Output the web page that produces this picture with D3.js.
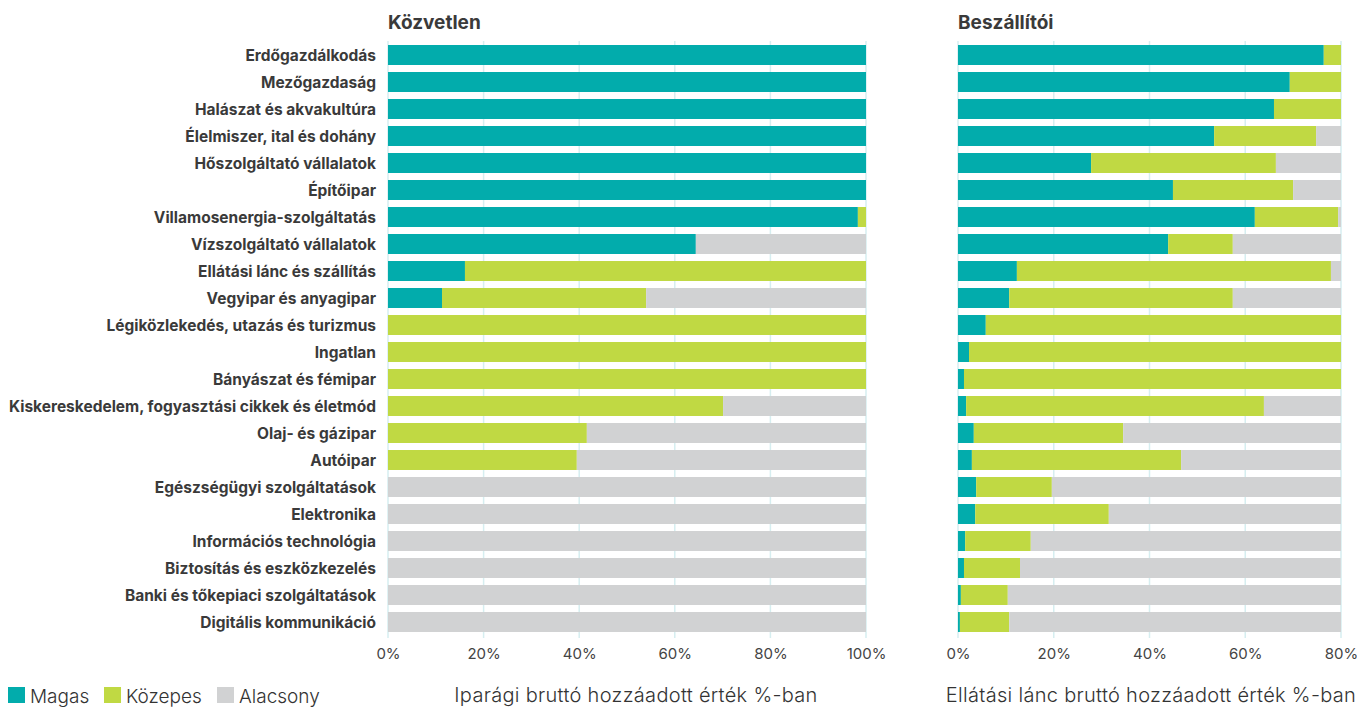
<!DOCTYPE html>
<html>
<head>
<meta charset="utf-8">
<script src="https://cdn.jsdelivr.net/npm/d3@7"></script>
<style>
  html, body { margin: 0; padding: 0; background: #fff; }
  svg { display: block; font-family: Inter, "Noto Sans", sans-serif; }
</style>
</head>
<body>
<svg id="chart" width="1357" height="707"></svg>
<script>
const categories = [
  "Erdőgazdálkodás", "Mezőgazdaság", "Halászat és akvakultúra", "Élelmiszer, ital és dohány",
  "Hőszolgáltató vállalatok", "Építőipar", "Villamosenergia-szolgáltatás", "Vízszolgáltató vállalatok",
  "Ellátási lánc és szállítás", "Vegyipar és anyagipar", "Légiközlekedés, utazás és turizmus", "Ingatlan",
  "Bányászat és fémipar", "Kiskereskedelem, fogyasztási cikkek és életmód", "Olaj- és gázipar", "Autóipar",
  "Egészségügyi szolgáltatások", "Elektronika", "Információs technológia", "Biztosítás és eszközkezelés",
  "Banki és tőkepiaci szolgáltatások", "Digitális kommunikáció"
];
const seriesNames = ["Magas", "Közepes", "Alacsony"];

// Közvetlen (direct)
const directMagas    = [100, 100, 100, 100, 100, 100, 98.3, 64.4, 16.1, 11.3, 0, 0, 0, 0, 0, 0, 0, 0, 0, 0, 0, 0];
const directKozepes  = [0, 0, 0, 0, 0, 0, 1.7, 0, 83.9, 42.7, 100, 100, 100, 70.1, 41.6, 39.5, 0, 0, 0, 0, 0, 0];
const directAlacsony = [0, 0, 0, 0, 0, 0, 0, 35.6, 0, 46.0, 0, 0, 0, 29.9, 58.4, 60.5, 100, 100, 100, 100, 100, 100];

// Beszállítói (supplier), in the units of the printed axis
const supplierMagas    = [76.4, 69.3, 66.0, 53.5, 27.8, 44.9, 62.0, 43.9, 12.3, 10.7, 5.8, 2.3, 1.25, 1.7, 3.3, 2.9, 3.8, 3.6, 1.5, 1.25, 0.6, 0.4];
const supplierKozepes  = [3.6, 10.7, 14.0, 21.3, 38.6, 25.1, 17.4, 13.5, 65.6, 46.7, 74.2, 77.7, 78.75, 62.2, 31.2, 43.7, 15.8, 27.9, 13.7, 11.7, 9.8, 10.3];
const supplierAlacsony = [0, 0, 0, 5.2, 13.6, 10.0, 0.6, 22.6, 2.1, 22.6, 0, 0, 0, 16.1, 45.5, 33.4, 60.4, 48.5, 64.8, 67.0, 69.6, 69.3];

const leftTicks  = [0, 20, 40, 60, 80, 100];
const rightTicks = [0, 20, 40, 60, 80];

const titleLeft = "Közvetlen";
const titleRight = "Beszállítói";
const axisTitleLeft = "Iparági bruttó hozzáadott érték %-ban";
const axisTitleRight = "Ellátási lánc bruttó hozzáadott érték %-ban";

const colors = { "Magas": "#02acac", "Közepes": "#c0d943", "Alacsony": "#d1d2d3" };

const svg = d3.select("#chart");

const y = d3.scaleBand().domain(categories).range([41.5, 635.5]).paddingInner(0.26).paddingOuter(0.13);

function panel(xScale, ticks, magas, kozepes, alacsony, title, axisTitle, titleX, axisTitleX) {
  const rows = categories.map((c, i) => ({ cat: c, "Magas": magas[i], "Közepes": kozepes[i], "Alacsony": alacsony[i] }));
  const stacked = d3.stack().keys(seriesNames)(rows);

  // grid
  svg.append("g").selectAll("line").data(ticks).join("line")
    .attr("x1", d => xScale(d)).attr("x2", d => xScale(d))
    .attr("y1", 41).attr("y2", 638)
    .attr("stroke", "#d6eef0").attr("stroke-width", 1.5);

  // bars
  svg.append("g").selectAll("g").data(stacked).join("g")
    .attr("fill", d => colors[d.key])
    .selectAll("rect").data(d => d).join("rect")
    .attr("x", d => xScale(d[0]))
    .attr("width", d => Math.max(0, xScale(d[1]) - xScale(d[0])))
    .attr("y", d => y(d.data.cat))
    .attr("height", y.bandwidth());

  // axis
  const ax = svg.append("g").attr("transform", "translate(0,638)")
    .call(d3.axisBottom(xScale).tickValues(ticks).tickFormat(d => d + "%").tickSize(0).tickPadding(10));
  ax.select(".domain").remove();
  ax.selectAll("text").attr("font-size", 15).attr("fill", "#444").attr("font-family", "Inter, sans-serif");

  svg.append("text").attr("x", titleX).attr("y", 29)
    .attr("font-size", 19).attr("font-weight", 700).attr("fill", "#3a3a3a").text(title);

  svg.append("text").attr("x", axisTitleX).attr("y", 702)
    .attr("text-anchor", "middle").attr("font-size", 20).attr("font-weight", 300)
    .attr("letter-spacing", 0.3).attr("fill", "#333")
    .text(axisTitle);
}

const xLeft = d3.scaleLinear().domain([0, 100]).range([388, 866]);
const xRight = d3.scaleLinear().domain([0, 80]).range([958, 1341]);

panel(xLeft, leftTicks, directMagas, directKozepes, directAlacsony, titleLeft, axisTitleLeft, 388, 636);
panel(xRight, rightTicks, supplierMagas, supplierKozepes, supplierAlacsony, titleRight, axisTitleRight, 958, 1151);

// category labels
svg.append("g").selectAll("text").data(categories).join("text")
  .attr("x", 376).attr("y", d => y(d) + y.bandwidth() / 2)
  .attr("dy", "0.36em").attr("text-anchor", "end")
  .attr("font-size", 15.5).attr("font-weight", 700).attr("fill", "#3a3a3a")
  .text(d => d);

// legend
const legendX = [8, 104, 217];
const lg = svg.append("g").selectAll("g").data(seriesNames).join("g")
  .attr("transform", (d, i) => `translate(${legendX[i]},687)`);
lg.append("rect").attr("width", 17).attr("height", 16).attr("fill", d => colors[d]);
lg.append("text").attr("x", 22).attr("y", 16).attr("font-size", 19).attr("font-weight", 300).attr("fill", "#333").text(d => d);
</script>
</body>
</html>
